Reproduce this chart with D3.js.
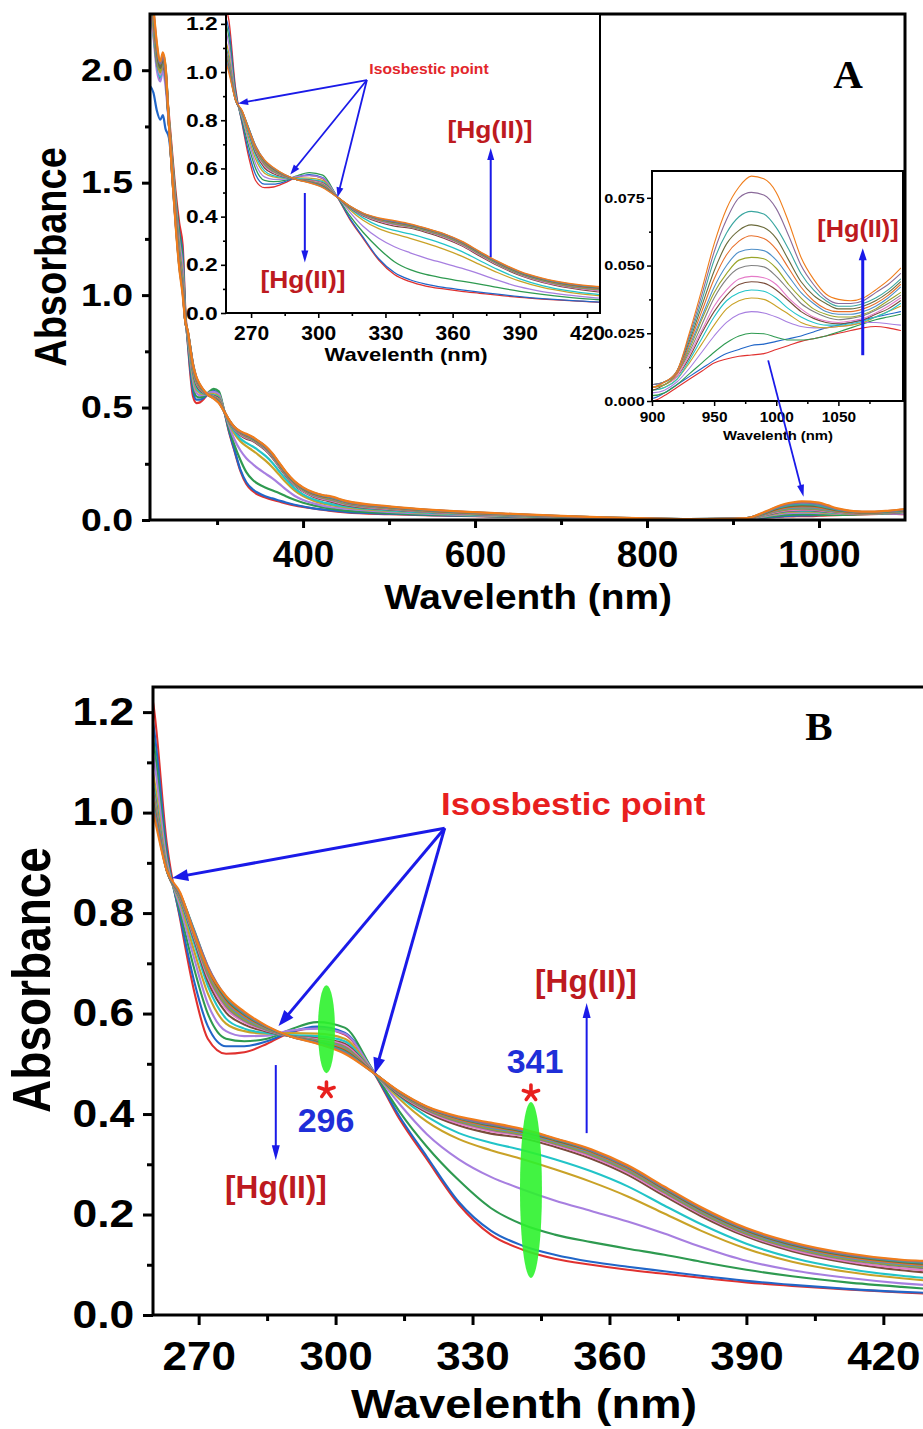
<!DOCTYPE html>
<html>
<head>
<meta charset="utf-8">
<title>UV-Vis-NIR titration with Hg(II)</title>
<script src="https://d3js.org/d3.v7.min.js"></script>
<style>
  body { margin: 0; background: #fff; }
  svg { display: block; font-family: Arial, "Liberation Sans", sans-serif; }
  .curve { fill: none; stroke-linejoin: round; stroke-linecap: round; }
</style>
</head>
<body>
<svg width="923" height="1429"></svg>
<script>

// ---- data: 16 spectra, from 0 eq. Hg(II) (first) to the last addition ----
var seriesColors = ["#e0312f", "#2166c8", "#2e9a50", "#a77fe0", "#c9a227", "#22c4c8",
                    "#7a4b3a", "#e57bc8", "#808080", "#9aa52a", "#4f8fc9", "#e86f2a",
                    "#6b6b3b", "#3aa6a0", "#8a6a9a", "#f07d1a"];

var wlFarUV = [222, 226, 230, 234, 237, 240, 244, 248, 252, 256];
var absFarUV = [
  [2.40, 2.22, 2.05, 1.98, 2.02, 1.96, 1.80, 1.62, 1.45, 1.32],
  [1.93, 1.90, 1.82, 1.78, 1.80, 1.74, 1.70, 1.55, 1.40, 1.28],
  [2.35, 2.18, 2.02, 1.96, 2.03, 1.97, 1.78, 1.60, 1.42, 1.27],
  [2.30, 2.15, 2.00, 1.95, 2.00, 1.93, 1.76, 1.58, 1.40, 1.24],
  [2.38, 2.20, 2.06, 2.00, 2.05, 1.99, 1.77, 1.57, 1.38, 1.21],
  [2.33, 2.16, 2.03, 1.97, 2.04, 1.98, 1.76, 1.56, 1.37, 1.19],
  [2.36, 2.19, 2.04, 1.99, 2.02, 1.97, 1.76, 1.55, 1.36, 1.18],
  [2.34, 2.17, 2.05, 1.98, 2.04, 1.99, 1.77, 1.55, 1.35, 1.17],
  [2.39, 2.21, 2.03, 2.00, 2.03, 1.98, 1.76, 1.54, 1.34, 1.16],
  [2.37, 2.20, 2.06, 1.99, 2.05, 2.00, 1.77, 1.54, 1.34, 1.16],
  [2.41, 2.23, 2.07, 2.01, 2.04, 1.99, 1.76, 1.53, 1.33, 1.15],
  [2.42, 2.24, 2.08, 2.02, 2.06, 2.01, 1.77, 1.53, 1.32, 1.14],
  [2.40, 2.25, 2.09, 2.01, 2.05, 2.00, 1.76, 1.52, 1.32, 1.14],
  [2.43, 2.26, 2.10, 2.03, 2.07, 2.02, 1.77, 1.52, 1.31, 1.13],
  [2.44, 2.27, 2.11, 2.03, 2.06, 2.01, 1.76, 1.52, 1.31, 1.13],
  [2.45, 2.28, 2.12, 2.04, 2.08, 2.02, 1.76, 1.52, 1.30, 1.12]
];

var wlUV = [260, 263, 266, 269, 272, 276, 280, 285, 290, 296, 302, 308, 314, 320,
            327, 334, 341, 348, 356, 364, 372, 380, 390, 400, 412, 424, 430];
var absUV = [
  [1.22, 0.940, 0.785, 0.645, 0.550, 0.520, 0.523, 0.540, 0.562, 0.571, 0.558, 0.488, 0.390, 0.310, 0.220, 0.160, 0.130, 0.112, 0.100, 0.090, 0.082, 0.074, 0.065, 0.058, 0.051, 0.045, 0.042],
  [1.18, 0.925, 0.790, 0.665, 0.575, 0.535, 0.535, 0.545, 0.563, 0.574, 0.562, 0.489, 0.395, 0.315, 0.225, 0.168, 0.138, 0.120, 0.106, 0.096, 0.087, 0.078, 0.068, 0.060, 0.052, 0.046, 0.044],
  [1.15, 0.915, 0.800, 0.690, 0.600, 0.550, 0.545, 0.550, 0.568, 0.583, 0.572, 0.490, 0.405, 0.335, 0.268, 0.213, 0.180, 0.160, 0.145, 0.132, 0.120, 0.106, 0.090, 0.077, 0.065, 0.056, 0.052],
  [1.12, 0.905, 0.810, 0.710, 0.620, 0.565, 0.555, 0.556, 0.566, 0.570, 0.560, 0.489, 0.420, 0.360, 0.310, 0.275, 0.250, 0.228, 0.207, 0.186, 0.162, 0.136, 0.108, 0.089, 0.074, 0.063, 0.059],
  [1.08, 0.895, 0.820, 0.725, 0.640, 0.580, 0.565, 0.560, 0.561, 0.560, 0.550, 0.487, 0.430, 0.385, 0.350, 0.328, 0.310, 0.290, 0.265, 0.236, 0.202, 0.168, 0.132, 0.106, 0.086, 0.073, 0.068],
  [1.06, 0.890, 0.825, 0.740, 0.655, 0.590, 0.570, 0.561, 0.557, 0.555, 0.545, 0.486, 0.435, 0.395, 0.362, 0.343, 0.328, 0.310, 0.286, 0.256, 0.218, 0.181, 0.142, 0.114, 0.092, 0.078, 0.073],
  [1.05, 0.888, 0.828, 0.748, 0.665, 0.602, 0.578, 0.564, 0.555, 0.551, 0.540, 0.486, 0.437, 0.403, 0.377, 0.361, 0.352, 0.335, 0.311, 0.279, 0.237, 0.197, 0.156, 0.127, 0.104, 0.089, 0.084],
  [1.045, 0.887, 0.830, 0.752, 0.672, 0.610, 0.583, 0.566, 0.555, 0.549, 0.537, 0.486, 0.439, 0.406, 0.381, 0.366, 0.356, 0.339, 0.315, 0.283, 0.241, 0.201, 0.159, 0.130, 0.107, 0.093, 0.088],
  [1.04, 0.887, 0.831, 0.755, 0.677, 0.615, 0.586, 0.567, 0.555, 0.547, 0.534, 0.485, 0.440, 0.408, 0.384, 0.369, 0.358, 0.341, 0.318, 0.286, 0.244, 0.203, 0.161, 0.133, 0.110, 0.097, 0.092],
  [1.035, 0.886, 0.833, 0.758, 0.681, 0.619, 0.589, 0.569, 0.555, 0.546, 0.532, 0.485, 0.441, 0.410, 0.386, 0.371, 0.360, 0.343, 0.320, 0.288, 0.246, 0.205, 0.163, 0.135, 0.112, 0.099, 0.095],
  [1.03, 0.886, 0.834, 0.761, 0.685, 0.623, 0.592, 0.570, 0.555, 0.545, 0.530, 0.485, 0.442, 0.411, 0.388, 0.373, 0.362, 0.345, 0.322, 0.290, 0.248, 0.207, 0.165, 0.137, 0.114, 0.101, 0.097],
  [1.025, 0.885, 0.835, 0.763, 0.688, 0.626, 0.595, 0.571, 0.555, 0.544, 0.528, 0.485, 0.443, 0.412, 0.389, 0.375, 0.364, 0.347, 0.324, 0.292, 0.250, 0.209, 0.167, 0.139, 0.116, 0.103, 0.099],
  [1.02, 0.885, 0.836, 0.765, 0.691, 0.629, 0.598, 0.572, 0.555, 0.543, 0.526, 0.485, 0.443, 0.413, 0.391, 0.377, 0.365, 0.348, 0.326, 0.294, 0.251, 0.210, 0.168, 0.140, 0.118, 0.105, 0.101],
  [1.015, 0.885, 0.837, 0.767, 0.694, 0.632, 0.600, 0.573, 0.555, 0.542, 0.524, 0.484, 0.444, 0.414, 0.392, 0.379, 0.367, 0.350, 0.327, 0.295, 0.253, 0.212, 0.170, 0.142, 0.120, 0.107, 0.103],
  [1.01, 0.885, 0.838, 0.764, 0.695, 0.634, 0.602, 0.574, 0.555, 0.541, 0.522, 0.484, 0.444, 0.414, 0.393, 0.380, 0.368, 0.351, 0.328, 0.296, 0.254, 0.213, 0.171, 0.143, 0.121, 0.109, 0.105],
  [1.00, 0.885, 0.840, 0.760, 0.690, 0.635, 0.604, 0.575, 0.555, 0.540, 0.520, 0.484, 0.445, 0.415, 0.395, 0.383, 0.370, 0.352, 0.330, 0.298, 0.256, 0.215, 0.173, 0.145, 0.123, 0.110, 0.107]
];

var wlVis = [450, 500, 550, 600, 650, 700, 750, 800, 850];
var absVis = [
  [0.034, 0.026, 0.021, 0.017, 0.013, 0.009, 0.006, 0.003, 0.002],
  [0.036, 0.028, 0.022, 0.018, 0.014, 0.010, 0.006, 0.003, 0.002],
  [0.042, 0.031, 0.024, 0.019, 0.015, 0.010, 0.007, 0.004, 0.002],
  [0.050, 0.036, 0.027, 0.021, 0.016, 0.011, 0.007, 0.004, 0.002],
  [0.056, 0.040, 0.030, 0.023, 0.017, 0.012, 0.008, 0.004, 0.003],
  [0.060, 0.043, 0.032, 0.024, 0.018, 0.012, 0.008, 0.005, 0.003],
  [0.066, 0.047, 0.035, 0.026, 0.019, 0.013, 0.009, 0.005, 0.003],
  [0.069, 0.049, 0.036, 0.027, 0.020, 0.014, 0.009, 0.005, 0.003],
  [0.072, 0.051, 0.037, 0.028, 0.021, 0.014, 0.009, 0.005, 0.003],
  [0.074, 0.053, 0.039, 0.029, 0.022, 0.015, 0.010, 0.006, 0.004],
  [0.076, 0.054, 0.040, 0.030, 0.022, 0.015, 0.010, 0.006, 0.004],
  [0.078, 0.055, 0.041, 0.031, 0.023, 0.016, 0.010, 0.006, 0.004],
  [0.080, 0.057, 0.042, 0.032, 0.024, 0.016, 0.011, 0.006, 0.004],
  [0.081, 0.058, 0.043, 0.033, 0.024, 0.017, 0.011, 0.007, 0.004],
  [0.083, 0.059, 0.044, 0.034, 0.025, 0.017, 0.011, 0.007, 0.004],
  [0.085, 0.061, 0.045, 0.035, 0.026, 0.018, 0.012, 0.007, 0.004]
];

var wlNIR = [900, 910, 920, 930, 940, 950, 960, 970, 980, 990, 1000,
             1010, 1020, 1030, 1040, 1050, 1060, 1070, 1080, 1090, 1100];
var absNIR = [
  [0.000, 0.002, 0.005, 0.008, 0.011, 0.014, 0.0155, 0.0165, 0.017, 0.0175, 0.019, 0.0205, 0.022, 0.023, 0.024, 0.025, 0.026, 0.027, 0.0275, 0.027, 0.026],
  [0.001, 0.003, 0.006, 0.009, 0.012, 0.015, 0.0175, 0.019, 0.0205, 0.021, 0.022, 0.023, 0.024, 0.0255, 0.027, 0.028, 0.029, 0.030, 0.031, 0.032, 0.033],
  [0.002, 0.003, 0.006, 0.010, 0.014, 0.018, 0.0215, 0.024, 0.025, 0.0248, 0.0235, 0.0225, 0.0225, 0.023, 0.024, 0.0255, 0.027, 0.0285, 0.030, 0.031, 0.032],
  [0.003, 0.004, 0.007, 0.012, 0.018, 0.024, 0.029, 0.032, 0.033, 0.0325, 0.031, 0.029, 0.0275, 0.027, 0.027, 0.0275, 0.028, 0.029, 0.029, 0.0285, 0.028],
  [0.004, 0.005, 0.008, 0.014, 0.021, 0.028, 0.034, 0.037, 0.038, 0.0375, 0.035, 0.032, 0.029, 0.0275, 0.027, 0.0275, 0.028, 0.029, 0.031, 0.033, 0.035],
  [0.004, 0.005, 0.008, 0.015, 0.023, 0.031, 0.037, 0.040, 0.041, 0.0405, 0.038, 0.034, 0.031, 0.029, 0.028, 0.028, 0.0285, 0.0295, 0.031, 0.033, 0.036],
  [0.004, 0.006, 0.009, 0.016, 0.025, 0.033, 0.039, 0.043, 0.044, 0.0435, 0.041, 0.037, 0.033, 0.0305, 0.029, 0.0285, 0.029, 0.030, 0.032, 0.034, 0.037],
  [0.005, 0.006, 0.009, 0.017, 0.026, 0.035, 0.041, 0.045, 0.046, 0.0455, 0.043, 0.038, 0.034, 0.031, 0.0295, 0.029, 0.0295, 0.0305, 0.0325, 0.035, 0.038],
  [0.005, 0.006, 0.010, 0.018, 0.028, 0.038, 0.045, 0.049, 0.050, 0.0495, 0.046, 0.041, 0.036, 0.033, 0.031, 0.030, 0.0305, 0.0315, 0.0335, 0.036, 0.039],
  [0.005, 0.006, 0.010, 0.019, 0.030, 0.040, 0.047, 0.052, 0.053, 0.0525, 0.049, 0.043, 0.038, 0.034, 0.032, 0.031, 0.031, 0.032, 0.034, 0.037, 0.040],
  [0.005, 0.007, 0.010, 0.020, 0.031, 0.042, 0.050, 0.055, 0.056, 0.0555, 0.052, 0.046, 0.040, 0.036, 0.033, 0.032, 0.032, 0.033, 0.035, 0.038, 0.042],
  [0.005, 0.007, 0.010, 0.021, 0.033, 0.045, 0.054, 0.059, 0.061, 0.060, 0.056, 0.049, 0.042, 0.037, 0.034, 0.033, 0.033, 0.034, 0.036, 0.039, 0.043],
  [0.006, 0.007, 0.011, 0.022, 0.035, 0.048, 0.058, 0.063, 0.065, 0.064, 0.060, 0.052, 0.044, 0.039, 0.036, 0.034, 0.034, 0.035, 0.037, 0.040, 0.044],
  [0.006, 0.007, 0.011, 0.023, 0.037, 0.052, 0.062, 0.068, 0.070, 0.069, 0.064, 0.056, 0.047, 0.041, 0.037, 0.035, 0.035, 0.036, 0.038, 0.041, 0.045],
  [0.006, 0.007, 0.011, 0.024, 0.039, 0.055, 0.067, 0.075, 0.077, 0.076, 0.071, 0.061, 0.050, 0.043, 0.038, 0.036, 0.036, 0.037, 0.040, 0.043, 0.047],
  [0.005, 0.007, 0.011, 0.025, 0.041, 0.058, 0.071, 0.079, 0.083, 0.082, 0.077, 0.066, 0.053, 0.045, 0.0395, 0.0375, 0.037, 0.038, 0.041, 0.0445, 0.049]
];

// tick labels
var mainXTicks = [400, 600, 800, 1000];
var mainYTicks = [0, 0.5, 1.0, 1.5, 2.0];
var uvXTicks = [270, 300, 330, 360, 390, 420];
var uvYTicks = [0, 0.2, 0.4, 0.6, 0.8, 1.0, 1.2];
var nirXTicks = [900, 950, 1000, 1050];
var nirYTicks = [0, 0.025, 0.050, 0.075];

// points for the annotations (wavelength, absorbance)
var isosbesticPts = [[264.2, 0.870], [287.5, 0.575], [308.6, 0.480]];
var bandLabels = ["296", "341"];
var bandMarkWl = [298, 342.8];

var blue = "#1a1ae8";
var svg = d3.select("svg");
var defs = svg.append("defs");

function spectrum(i) {
  var pts = [];
  wlFarUV.forEach(function(w, k) { pts.push([w, absFarUV[i][k]]); });
  wlUV.forEach(function(w, k) { pts.push([w, absUV[i][k]]); });
  wlVis.forEach(function(w, k) { pts.push([w, absVis[i][k]]); });
  wlNIR.forEach(function(w, k) { pts.push([w, absNIR[i][k]]); });
  return pts;
}

function clipFor(id, x, y) {
  defs.append("clipPath").attr("id", id).append("rect")
    .attr("x", x.range()[0]).attr("y", y.range()[1])
    .attr("width", x.range()[1] - x.range()[0]).attr("height", y.range()[0] - y.range()[1]);
}

function drawCurves(g, x, y, id, width) {
  clipFor(id, x, y);
  var line = d3.line().x(function(d) { return x(d[0]); }).y(function(d) { return y(d[1]); })
    .curve(d3.curveMonotoneX);
  g.append("g").attr("clip-path", "url(#" + id + ")")
    .selectAll("path").data(seriesColors).enter().append("path")
    .attr("class", "curve")
    .attr("d", function(c, i) { return line(spectrum(i)); })
    .attr("stroke", function(c) { return c; })
    .attr("stroke-width", width);
}

function styleAxis(a, lw, size, sx) {
  a.select(".domain").remove();
  a.selectAll(".tick line").attr("stroke", "#000").attr("stroke-width", lw);
  a.selectAll(".tick text").attr("fill", "#000").attr("font-size", size)
    .attr("font-weight", "bold").attr("font-family", "Arial, 'Liberation Sans', sans-serif")
    .attr("transform", "scale(" + sx + ",1)");
}

function drawAxes(g, x, y, o) {
  var y0 = y.range()[0], x0 = x.range()[0];
  var ax = g.append("g").attr("transform", "translate(0," + y0 + ")");
  ax.append("g").call(d3.axisBottom(x).tickValues(o.xMinor).tickSize(o.minor).tickFormat(""))
    .call(styleAxis, o.tw, 1, 1);
  ax.append("g").call(d3.axisBottom(x).tickValues(o.xTicks).tickSize(o.major).tickPadding(o.xPad).tickFormat(d3.format("d")))
    .call(styleAxis, o.tw, o.xFont, o.xSx);
  var ay = g.append("g").attr("transform", "translate(" + x0 + ",0)");
  ay.append("g").call(d3.axisLeft(y).tickValues(o.yMinor).tickSize(o.minor).tickFormat(""))
    .call(styleAxis, o.tw, 1, 1);
  ay.append("g").call(d3.axisLeft(y).tickValues(o.yTicks).tickSize(o.major).tickPadding(o.yPad).tickFormat(d3.format(o.yFmt)))
    .call(styleAxis, o.tw, o.yFont, o.ySx);
}

function frame(g, x, y, lw) {
  g.append("rect").attr("x", x.range()[0]).attr("y", y.range()[1])
    .attr("width", x.range()[1] - x.range()[0]).attr("height", y.range()[0] - y.range()[1])
    .attr("fill", "none").attr("stroke", "#000").attr("stroke-width", lw);
}

function label(g, x, y, str, size, sx, color, anchor, rot, family) {
  return g.append("text")
    .attr("transform", "translate(" + x + "," + y + ") scale(" + sx + ",1)" + (rot ? " rotate(" + rot + ")" : ""))
    .attr("text-anchor", anchor || "middle")
    .attr("font-family", family || "Arial, 'Liberation Sans', sans-serif")
    .attr("font-size", size).attr("font-weight", "bold").attr("fill", color || "#000")
    .text(str);
}

function arrow(g, x1, y1, x2, y2, w, hl, hw) {
  var dx = x2 - x1, dy = y2 - y1, L = Math.sqrt(dx * dx + dy * dy), ux = dx / L, uy = dy / L;
  var bx = x2 - ux * hl, by = y2 - uy * hl;
  g.append("line").attr("x1", x1).attr("y1", y1).attr("x2", bx + ux * 2).attr("y2", by + uy * 2)
    .attr("stroke", blue).attr("stroke-width", w);
  g.append("path")
    .attr("d", "M" + x2 + "," + y2 + "L" + (bx - uy * hw / 2) + "," + (by + ux * hw / 2) +
               "L" + (bx + uy * hw / 2) + "," + (by - ux * hw / 2) + "Z")
    .attr("fill", blue);
}

// red star mark (drawn as a symbol) above a band
function star(g, cx, cy, r) {
  [90, 18, -54, 162, 234].forEach(function(a) {
    var t = a * Math.PI / 180;
    g.append("line").attr("x1", cx).attr("y1", cy)
      .attr("x2", cx + r * Math.cos(t)).attr("y2", cy - r * Math.sin(t))
      .attr("stroke", "#e8201e").attr("stroke-width", 3.6).attr("stroke-linecap", "round");
  });
}

// ================= Panel A =================
var xA = d3.scaleLinear().domain([222, 1100]).range([150, 905]);
var yA = d3.scaleLinear().domain([0, 2.25]).range([520, 14]);
var gA = svg.append("g");
drawCurves(gA, xA, yA, "clipA", 2.2);
drawAxes(gA, xA, yA, {
  xTicks: mainXTicks, xMinor: [300, 500, 700, 900], yTicks: mainYTicks, yMinor: [0.25, 0.75, 1.25, 1.75],
  major: 8, minor: 5, tw: 3, xFont: 37, xSx: 1.0, xPad: 13, yFont: 32, ySx: 1.17, yPad: 6.5, yFmt: ".1f"
});
label(gA, 66, 257, "Absorbance", 38, 1.18, "#000", "middle", -90);
label(gA, 528, 609, "Wavelenth (nm)", 35, 1.11, "#000");

// inset: UV region
var xI1 = d3.scaleLinear().domain([258.8, 425.8]).range([226, 600]);
var yI1 = d3.scaleLinear().domain([0, 1.241]).range([313, 14]);
var gI1 = svg.append("g");
gI1.append("rect").attr("x", 226).attr("y", 14).attr("width", 374).attr("height", 299).attr("fill", "#fff");
drawCurves(gI1, xI1, yI1, "clipI1", 1.3);
drawAxes(gI1, xI1, yI1, {
  xTicks: uvXTicks, xMinor: [285, 315, 345, 375, 405], yTicks: uvYTicks, yMinor: [0.1, 0.3, 0.5, 0.7, 0.9, 1.1],
  major: 5, minor: 3, tw: 1.6, xFont: 20, xSx: 1.05, xPad: 8, yFont: 19, ySx: 1.2, yPad: 2, yFmt: ".1f"
});
frame(gI1, xI1, yI1, 2);
label(gI1, 406, 361, "Wavelenth (nm)", 19, 1.16, "#000");

// inset: NIR region
var xI2 = d3.scaleLinear().domain([900, 1102]).range([652, 903]);
var yI2 = d3.scaleLinear().domain([0, 0.0849]).range([401, 171]);
var gI2 = svg.append("g");
gI2.append("rect").attr("x", 652).attr("y", 171).attr("width", 251).attr("height", 230).attr("fill", "#fff");
drawCurves(gI2, xI2, yI2, "clipI2", 1.1);
drawAxes(gI2, xI2, yI2, {
  xTicks: nirXTicks, xMinor: [925, 975, 1025, 1075], yTicks: nirYTicks, yMinor: [0.0125, 0.0375, 0.0625],
  major: 5, minor: 3, tw: 1.5, xFont: 14, xSx: 1.1, xPad: 6, yFont: 13.5, ySx: 1.2, yPad: 1, yFmt: ".3f"
});
frame(gI2, xI2, yI2, 2);
label(gI2, 778, 440, "Wavelenth (nm)", 13.5, 1.1, "#000");

frame(gA, xA, yA, 3);
label(gA, 848, 88, "A", 41, 1, "#000", "middle", 0, "'Liberation Serif', 'Times New Roman', serif");

// annotations, panel A
var annA = svg.append("g");
label(annA, 429, 74, "Isosbestic point", 14, 1.12, "#e3262b");
var oA = [xI1(321.7), yI1(0.967)];
isosbesticPts.forEach(function(p) {
  arrow(annA, oA[0], oA[1], xI1(p[0]), yI1(p[1]), 1.8, 10, 7);
});
arrow(annA, xI1(294), yI1(0.498), xI1(294), yI1(0.21), 2, 12, 7);
label(annA, 303, 288, "[Hg(II)]", 24, 1.1, "#bd1a20");
arrow(annA, xI1(377), yI1(0.232), xI1(377), yI1(0.685), 2, 12, 7);
label(annA, 490, 138, "[Hg(II)]", 24, 1.1, "#bd1a20");
arrow(annA, xI2(1069.6), yI2(0.0169), xI2(1069.6), yI2(0.0564), 3, 12, 8);
label(annA, 858, 237, "[Hg(II)]", 23, 1.1, "#bd1a20");
arrow(annA, xI2(993.5), yI2(0.015), xA(982), yA(0.103), 1.8, 12, 7);

// ================= Panel B =================
var xB = d3.scaleLinear().domain([260, 430]).range([153, 929]);
var yB = d3.scaleLinear().domain([0, 1.25]).range([1315, 687]);
var gB = svg.append("g");
drawCurves(gB, xB, yB, "clipB", 2.1);
drawAxes(gB, xB, yB, {
  xTicks: uvXTicks, xMinor: [285, 315, 345, 375, 405], yTicks: uvYTicks, yMinor: [0.1, 0.3, 0.5, 0.7, 0.9, 1.1],
  major: 10, minor: 6, tw: 3, xFont: 40, xSx: 1.1, xPad: 17, yFont: 38, ySx: 1.17, yPad: 6, yFmt: ".1f"
});
frame(gB, xB, yB, 3);
label(gB, 50, 980, "Absorbance", 46, 1.18, "#000", "middle", -90);
label(gB, 524, 1418, "Wavelenth (nm)", 41, 1.14, "#000");
label(gB, 819, 740, "B", 41, 1, "#000", "middle", 0, "'Liberation Serif', 'Times New Roman', serif");

var annB = svg.append("g");
// green marks on the 296 and 341 bands
annB.append("ellipse").attr("cx", xB(bandMarkWl[0])).attr("cy", yB(0.569)).attr("rx", 8.5).attr("ry", 44)
  .attr("fill", "#2df22d").attr("opacity", 0.9);
annB.append("ellipse").attr("cx", xB(bandMarkWl[1])).attr("cy", yB(0.249)).attr("rx", 11).attr("ry", 88)
  .attr("fill", "#2df22d").attr("opacity", 0.9);

label(annB, 441, 815, "Isosbestic point", 31, 1.12, "#e8201e", "start");
var oB = [xB(323.9), yB(0.969)];
isosbesticPts.forEach(function(p) {
  arrow(annB, oB[0], oB[1], xB(p[0]), yB(p[1]), 3, 16, 12);
});
arrow(annB, xB(286.9), yB(0.4975), xB(286.9), yB(0.308), 2, 15, 8);
label(annB, 276, 1198, "[Hg(II)]", 31, 1.02, "#bd1a20");
arrow(annB, xB(355), yB(0.362), xB(355), yB(0.621), 2, 15, 8);
label(annB, 586, 992, "[Hg(II)]", 31, 1.02, "#bd1a20");

// star marks and band positions
star(annB, xB(bandMarkWl[0]), 1090, 8);
label(annB, 326, 1132, bandLabels[0], 34, 1, "#1f2fd8");
star(annB, xB(bandMarkWl[1]), 1093, 8);
label(annB, 535, 1073, bandLabels[1], 34, 1, "#1f2fd8");

</script>
</body>
</html>
